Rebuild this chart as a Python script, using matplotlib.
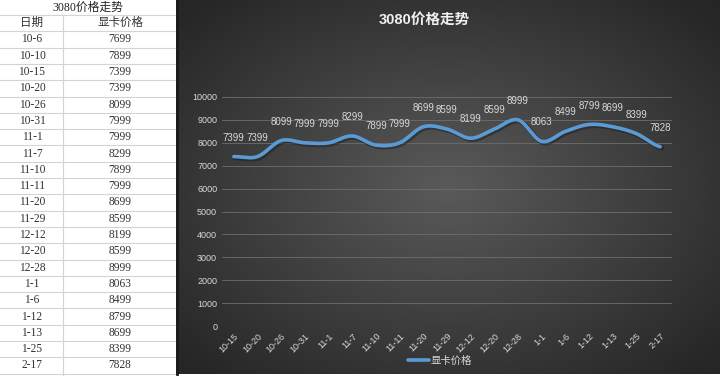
import numpy as np
import matplotlib
matplotlib.use("Agg")
from matplotlib import pyplot as plt
from matplotlib.lines import Line2D

plt.rcParams['font.family'] = ['Liberation Sans', 'Noto Sans CJK SC', 'DejaVu Sans']

# table data (left sheet)
table_dates = ['10-6', '10-10', '10-15', '10-20', '10-26', '10-31', '11-1', '11-7', '11-10', '11-11',
               '11-20', '11-29', '12-12', '12-20', '12-28', '1-1', '1-6', '1-12', '1-13', '1-25', '2-17']
table_prices = [7699, 7899, 7399, 7399, 8099, 7999, 7999, 8299, 7899, 7999,
                8699, 8599, 8199, 8599, 8999, 8063, 8499, 8799, 8699, 8399, 7828]

# chart data
dates = table_dates[2:]
prices = table_prices[2:]

W, H = 720, 376
fig = plt.figure(figsize=(7.2, 3.76), dpi=100)
fig.patch.set_facecolor('white')

def fx(px):
    return px / W

def fy(py):
    return 1 - py / H

# ---- spreadsheet table ----
serif = ['Liberation Serif', 'Noto Sans CJK SC']
grid_c = '#d4d4d4'
row0 = 15
rh = 16.3
fig.add_artist(Line2D([fx(0), fx(176)], [fy(row0), fy(row0)], color=grid_c, lw=0.8))
fig.text(fx(88), fy(8), '3080价格走势', ha='center', va='center', fontsize=8.5, family=serif, color='#222222')
rows = [('日期', '显卡价格')] + [(d, str(p)) for d, p in zip(table_dates, table_prices)]
for i, (a, b) in enumerate(rows):
    top = row0 + i * rh
    cy = top + rh / 2
    fig.text(fx(32), fy(cy), a, ha='center', va='center', fontsize=8.3, family=serif, color='#333333')
    fig.text(fx(120), fy(cy), b, ha='center', va='center', fontsize=8.3, family=serif, color='#333333')
    fig.add_artist(Line2D([fx(0), fx(176)], [fy(top + rh), fy(top + rh)], color=grid_c, lw=0.8))
fig.add_artist(Line2D([fx(63), fx(63)], [fy(row0), fy(376)], color=grid_c, lw=0.8))

# ---- chart background (radial gradient) ----
bg = fig.add_axes([fx(176), fy(374), fx(720 - 176), (374) / H])
gx, gy = np.meshgrid(np.linspace(-1, 1, 300), np.linspace(-1, 1, 200))
r = np.clip(np.sqrt(gx ** 2 + gy ** 2) / 1.35, 0, 1)
inner = np.array([0x5a, 0x5a, 0x5a]) / 255
outer = np.array([0x26, 0x26, 0x26]) / 255
img = inner[None, None, :] * (1 - r[..., None]) + outer[None, None, :] * r[..., None]
bg.imshow(img, aspect='auto', extent=[0, 1, 0, 1])
bg.axis('off')
fig.add_artist(Line2D([fx(176.5), fx(176.5)], [fy(0), fy(374)], color='#1a1a1a', lw=2))

fig.text(fx(424), fy(20), '3080价格走势', ha='center', va='center', fontsize=10.5,
         fontweight='bold', color='#f0f0f0')

# ---- chart ----
ax = fig.add_axes([fx(222), fy(326), fx(672 - 222), (326 - 97) / H])
ax.patch.set_alpha(0)
x = np.arange(len(prices))
y = np.array(prices, dtype=float)

# smoothed line like Excel (Catmull-Rom through the data points)
xs, ys = [], []
for i in range(len(x) - 1):
    p0 = y[max(i - 1, 0)]
    p1 = y[i]
    p2 = y[i + 1]
    p3 = y[min(i + 2, len(y) - 1)]
    t = np.linspace(0, 1, 20)
    seg = 0.5 * ((2 * p1) + (-p0 + p2) * t + (2 * p0 - 5 * p1 + 4 * p2 - p3) * t ** 2
                 + (-p0 + 3 * p1 - 3 * p2 + p3) * t ** 3)
    xs.extend(x[i] + t)
    ys.extend(seg)
ax.plot(np.array(xs) + 0.06, np.array(ys) - 60, color='#1e1e1e', lw=3.5, alpha=0.5, solid_capstyle='round')
ax.plot(xs, ys, color='#5b9bd5', lw=2.6, solid_capstyle='round', label='显卡价格')

for xi, yi in zip(x, prices):
    ax.annotate(str(yi), (xi, yi), xytext=(0, 10), textcoords='offset points',
                ha='center', va='bottom', fontsize=7, color='#d9d9d9')

ax.set_xlim(-0.5, len(prices) - 0.5)
ax.set_ylim(0, 10000)
ax.set_yticks(np.arange(0, 10001, 1000))
ax.set_xticks(x)
ax.set_xticklabels(dates, rotation=45, ha='right', rotation_mode='anchor')
ax.tick_params(axis='both', length=0, colors='#d9d9d9', labelsize=6.5)
ax.tick_params(axis='x', pad=4)
ax.grid(axis='y', color='#6e6e6e', lw=0.6)
ax.set_axisbelow(True)
for s in ax.spines.values():
    s.set_visible(False)

leg = ax.legend(loc='center', bbox_to_anchor=(fx(440), fy(361)), bbox_transform=fig.transFigure,
                frameon=False, handlelength=2.0, handletextpad=0.2,
                prop={'family': serif, 'size': 7.5})
for t in leg.get_texts():
    t.set_color('#d9d9d9')

fig.savefig('out.png', dpi=100, facecolor=fig.get_facecolor())
